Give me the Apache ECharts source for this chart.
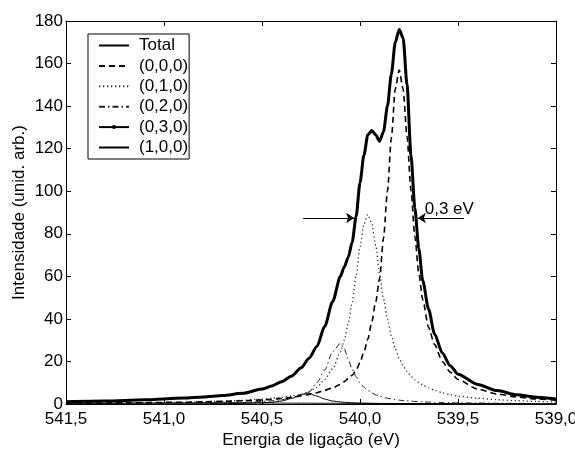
<!DOCTYPE html>
<html>
<head>
<meta charset="utf-8">
<script src="https://cdn.jsdelivr.net/npm/echarts@6/dist/echarts.min.js"></script>
<style>
  html, body { margin: 0; padding: 0; background: #fff; }
  #chart { width: 575px; height: 452px; }
</style>
</head>
<body>
<div id="chart"></div>
<script>
// Binding energy (eV) sample positions
const energy = [
  541.5, 541.3, 541.1, 540.9, 540.8, 540.7, 540.6, 540.5, 540.45, 540.4,
  540.35, 540.3, 540.26, 540.22, 540.18, 540.14, 540.10, 540.08, 540.06, 540.04,
  540.02, 540.00, 539.98, 539.96, 539.94, 539.92, 539.90, 539.88, 539.86, 539.84,
  539.82, 539.80, 539.78, 539.76, 539.74, 539.72, 539.70, 539.68, 539.65, 539.62,
  539.58, 539.54, 539.5, 539.4, 539.3, 539.2, 539.1, 539.0];

const total = [
  1.1, 1.4, 2.0, 2.8, 3.3, 4.0, 5.0, 7.0, 8.5, 10.5,
  13.0, 17, 21.5, 27, 36.5, 48, 60, 64.5, 69, 76,
  88, 104, 117, 126.5, 128.5, 126.5, 123.5, 128, 140, 155,
  170, 176, 172, 150, 117, 92, 73, 58, 44.5, 33,
  24, 18, 14, 9.2, 6.3, 4.3, 3.2, 2.4];

const v000 = [
  0.4, 0.5, 0.6, 0.85, 1.0, 1.25, 1.5, 1.9, 2.2, 2.6,
  3.1, 3.8, 4.5, 5.3, 6.4, 7.6, 9.2, 10.5, 12, 13.5,
  15.8, 19.5, 24.5, 30.5, 38.5, 48, 59, 78, 100, 125,
  148, 157, 148, 125.6, 100.5, 78.5, 61.5, 49, 36, 28,
  20, 15, 11.5, 7.0, 4.7, 3.3, 2.4, 1.8];

const v010 = [
  0.3, 0.4, 0.55, 0.8, 1.0, 1.3, 1.7, 2.3, 2.7, 3.2,
  3.8, 4.5, 5.8, 7.8, 11.5, 16.5, 24.5, 30, 38, 48,
  60, 74, 84.5, 89, 85, 74.5, 61, 49.5, 40, 32,
  26, 21.5, 18, 15.3, 13, 11.3, 10, 8.9, 7.6, 6.5,
  5.3, 4.4, 3.7, 2.7, 2.0, 1.55, 1.2, 0.95];

const v020 = [
  0.1, 0.13, 0.19, 0.3, 0.38, 0.52, 0.75, 1.2, 1.5, 2.0,
  2.9, 4.0, 5.6, 10, 16, 24.5, 28.5, 26, 21, 16.4,
  12.8, 10, 7.9, 6.4, 5.2, 4.3, 3.7, 3.1, 2.7, 2.4,
  2.0, 1.8, 1.6, 1.5, 1.35, 1.2, 1.1, 1.0, 0.9, 0.8,
  0.7, 0.6, 0.55, 0.45, 0.37, 0.3, 0.25, 0.2];

const v030 = [
  0.02, 0.03, 0.05, 0.08, 0.12, 0.17, 0.29, 0.56, 0.85, 1.4,
  2.6, 4.5, 5.1, 3.7, 2.3, 1.4, 0.95, 0.8, 0.66, 0.56,
  0.48, 0.42, 0.37, 0.33, 0.29, 0.26, 0.24, 0.22, 0.2, 0.18,
  0.17, 0.15, 0.14, 0.13, 0.12, 0.11, 0.1, 0.1, 0.09, 0.08,
  0.07, 0.065, 0.06, 0.05, 0.04, 0.03, 0.03, 0.02];

const v100 = [
  0.3, 0.35, 0.45, 0.55, 0.6, 0.6, 0.55, 0.48, 0.45, 0.42,
  0.4, 0.38, 0.37, 0.36, 0.35, 0.34, 0.33, 0.32, 0.31, 0.31,
  0.3, 0.3, 0.29, 0.29, 0.28, 0.28, 0.27, 0.27, 0.26, 0.26,
  0.25, 0.25, 0.24, 0.24, 0.23, 0.23, 0.22, 0.22, 0.21, 0.2,
  0.2, 0.19, 0.18, 0.17, 0.15, 0.14, 0.13, 0.12];

const seriesNames = ['Total', '(0,0,0)', '(0,1,0)', '(0,2,0)', '(0,3,0)', '(1,0,0)'];
const xTicks = [541.5, 541.0, 540.5, 540.0, 539.5, 539.0];
const yTicks = [0, 20, 40, 60, 80, 100, 120, 140, 160, 180];

// FWHM annotation (data coordinates)
const fwhmY = 87.4;
const fwhmLeftArrow = [540.29, 540.03];
const fwhmRightArrow = [539.47, 539.705];
const fwhmText = '0,3 eV';
const fwhmTextPos = [539.69, 91.6];

const FONT = 'Liberation Sans, Arial, Helvetica, sans-serif';
const zip = (ys) => energy.map((e, i) => [e, ys[i]]);

const styles = [
  { color: '#000', width: 3, type: 'solid' },
  { color: '#000', width: 1.6, type: [6, 4] },
  { color: '#333', width: 1.3, type: [1.3, 2.7] },
  { color: '#222', width: 1, type: [6, 3, 1.5, 3] },
  { color: '#000', width: 1, type: 'solid' },
  { color: '#000', width: 1, type: 'solid' }
];
const dataSets = [total, v000, v010, v020, v030, v100];

const series = seriesNames.map((name, i) => {
  const s = {
    name: name,
    type: 'line',
    xAxisIndex: 0,
    yAxisIndex: 0,
    data: zip(dataSets[i]),
    smooth: 0.25,
    smoothMonotone: 'x',
    symbol: i === 4 ? 'circle' : 'none',
    showSymbol: false,
    symbolSize: 4,
    color: styles[i].color,
    itemStyle: { color: styles[i].color },
    lineStyle: { color: styles[i].color, width: styles[i].width, type: styles[i].type },
    emphasis: { disabled: true },
    silent: true,
    z: 10 - i
  };
  if (i === 0) {
    s.markLine = {
      silent: true,
      symbol: ['none', 'arrow'],
      symbolSize: 8,
      animation: false,
      label: { show: false },
      lineStyle: { color: '#000', width: 1, type: 'solid' },
      emphasis: { disabled: true },
      data: [
        [{ coord: [fwhmLeftArrow[0], fwhmY] }, { coord: [fwhmLeftArrow[1], fwhmY] }],
        [{ coord: [fwhmRightArrow[0], fwhmY] }, { coord: [fwhmRightArrow[1], fwhmY] }]
      ]
    };
    s.markPoint = {
      silent: true,
      animation: false,
      symbol: 'circle',
      symbolSize: 0,
      data: [{
        coord: fwhmTextPos,
        label: {
          show: true, position: 'right', distance: 4,
          formatter: fwhmText, color: '#000', fontSize: 17, fontFamily: FONT
        }
      }]
    };
  }
  return s;
});

const fmtX = (v) => v.toFixed(1).replace('.', ',');

const option = {
  animation: false,
  backgroundColor: '#fff',
  textStyle: { fontFamily: FONT, color: '#000' },
  grid: { left: 66, right: 19, top: 21, bottom: 48, containLabel: false, outerBoundsMode: 'none' },
  legend: {
    orient: 'vertical',
    left: 88,
    top: 34,
    padding: [3, 1, 3, 10],
    itemGap: 3.4,
    itemWidth: 30,
    itemHeight: 5,
    backgroundColor: '#fff',
    borderColor: '#000',
    borderWidth: 1,
    borderRadius: 0,
    selectedMode: false,
    textStyle: { fontSize: 17, color: '#000', fontFamily: FONT, padding: [0, 0, 0, 5] },
    data: seriesNames.map((n, i) => ({
      name: n,
      itemStyle: i === 4 ? { color: '#000', opacity: 1, borderWidth: 0 } : { opacity: 0 }
    }))
  },
  xAxis: [
    {
      type: 'value', position: 'bottom', inverse: true,
      min: xTicks[xTicks.length - 1], max: xTicks[0], interval: 0.5,
      name: 'Energia de ligação (eV)', nameLocation: 'middle', nameGap: 28,
      nameMoveOverlap: false,
      nameTextStyle: { fontSize: 17, color: '#000', fontFamily: FONT },
      axisLine: { show: true, onZero: false, lineStyle: { color: '#000', width: 1 } },
      axisTick: { show: true, inside: true, length: 5, lineStyle: { color: '#000' } },
      axisLabel: { show: true, formatter: fmtX, fontSize: 17, color: '#000', margin: 7, fontFamily: FONT, showMinLabel: true, showMaxLabel: true },
      splitLine: { show: false }
    },
    {
      type: 'value', position: 'top', inverse: true,
      min: xTicks[xTicks.length - 1], max: xTicks[0], interval: 0.5,
      axisLine: { show: true, onZero: false, lineStyle: { color: '#000', width: 1 } },
      axisTick: { show: true, inside: true, length: 5, lineStyle: { color: '#000' } },
      axisLabel: { show: false },
      splitLine: { show: false }
    }
  ],
  yAxis: [
    {
      type: 'value', position: 'left',
      min: yTicks[0], max: yTicks[yTicks.length - 1], interval: 20,
      name: 'Intensidade (unid. arb.)', nameLocation: 'middle', nameGap: 38,
      nameMoveOverlap: false,
      nameTextStyle: { fontSize: 17, color: '#000', fontFamily: FONT },
      axisLine: { show: true, onZero: false, lineStyle: { color: '#000', width: 1 } },
      axisTick: { show: true, inside: true, length: 5, lineStyle: { color: '#000' } },
      axisLabel: { show: true, fontSize: 17, color: '#000', margin: 3, fontFamily: FONT },
      splitLine: { show: false }
    },
    {
      type: 'value', position: 'right',
      min: yTicks[0], max: yTicks[yTicks.length - 1], interval: 20,
      axisLine: { show: true, onZero: false, lineStyle: { color: '#000', width: 1 } },
      axisTick: { show: true, inside: true, length: 5, lineStyle: { color: '#000' } },
      axisLabel: { show: false },
      splitLine: { show: false }
    }
  ],
  series: series
};

const chart = echarts.init(document.getElementById('chart'), null, { renderer: 'canvas' });
chart.setOption(option);
</script>
</body>
</html>
